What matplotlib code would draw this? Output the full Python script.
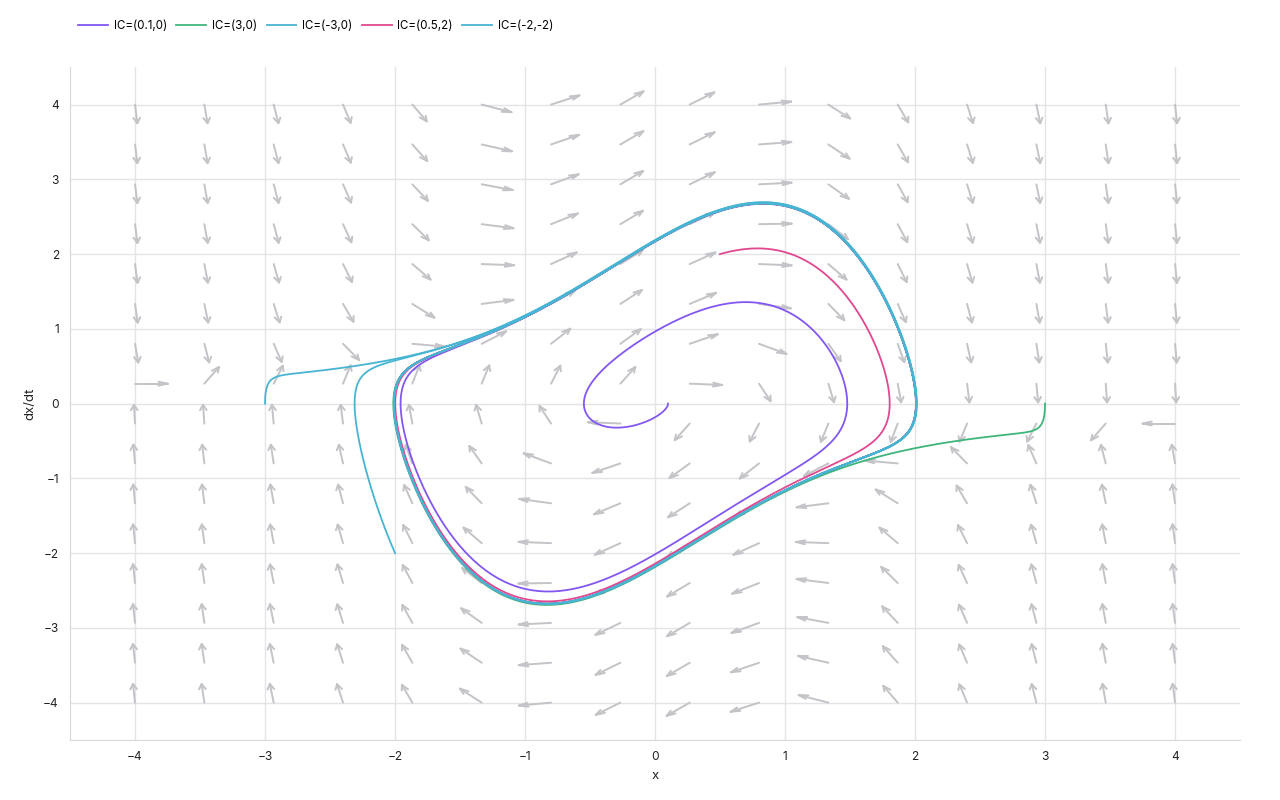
import numpy as np
import matplotlib.pyplot as plt
from matplotlib.collections import LineCollection

plt.rcParams['font.family'] = ['Inter', 'DejaVu Sans']

# Van der Pol oscillator: mu = 1
mu = 1.0
t_end = 20.0
dt = 0.01

# initial conditions (x0, y0) as given in the legend
ic_x = [0.1, 3, -3, 0.5, -2]
ic_y = [0, 0, 0, 2, -2]
ic_labels = ['IC=(0.1,0)', 'IC=(3,0)', 'IC=(-3,0)', 'IC=(0.5,2)', 'IC=(-2,-2)']
ic_colors = ['#8257f2', '#3fb57c', '#47b4d3', '#e1488f', '#47b4d3']

# vector field grid
grid_x = np.linspace(-4, 4, 16)
grid_y = np.linspace(-4, 4, 16)
arrow_len = 0.25
barb_frac = 0.3

ticks = [-4, -3, -2, -1, 0, 1, 2, 3, 4]


def field(x, y):
    return y, mu * (1 - x ** 2) * y - x


def integrate(x0, y0):
    n = int(t_end / dt)
    xs = np.empty(n + 1)
    ys = np.empty(n + 1)
    xs[0], ys[0] = x0, y0
    x, y = x0, y0
    for i in range(n):
        k1 = field(x, y)
        k2 = field(x + dt / 2 * k1[0], y + dt / 2 * k1[1])
        k3 = field(x + dt / 2 * k2[0], y + dt / 2 * k2[1])
        k4 = field(x + dt * k3[0], y + dt * k3[1])
        x += dt / 6 * (k1[0] + 2 * k2[0] + 2 * k3[0] + k4[0])
        y += dt / 6 * (k1[1] + 2 * k2[1] + 2 * k3[1] + k4[1])
        xs[i + 1], ys[i + 1] = x, y
    return xs, ys


fig = plt.figure(figsize=(12.8, 8), dpi=100)
ax = fig.add_axes([0.0547, 0.075, 0.9141, 0.841])

# arrows (shaft + two barbs, drawn in data coords)
X, Y = np.meshgrid(grid_x, grid_y)
U, V = field(X, Y)
norm = np.hypot(U, V)
U = U / norm * arrow_len
V = V / norm * arrow_len
segs = []
for x, y, u, v in zip(X.ravel(), Y.ravel(), U.ravel(), V.ravel()):
    ex, ey = x + u, y + v
    ang = np.arctan2(v, u)
    bl = barb_frac * arrow_len
    segs.append([(x, y), (ex, ey)])
    for s in (1, -1):
        a = ang + s * np.pi / 9
        segs.append([(ex - bl * np.cos(a), ey - bl * np.sin(a)), (ex, ey)])
ax.add_collection(LineCollection(segs, colors='#c3c3c8', linewidths=1.4,
                                 capstyle='round', zorder=2))

for x0, y0, lab, col in zip(ic_x, ic_y, ic_labels, ic_colors):
    xs, ys = integrate(x0, y0)
    ax.plot(xs, ys, color=col, lw=1.3, label=lab, zorder=3)

ax.set_xlim(-4.5, 4.5)
ax.set_ylim(-4.5, 4.5)
ax.set_xticks(ticks)
ax.set_yticks(ticks)
ax.grid(True, color='#e3e3e8', lw=1)
ax.set_axisbelow(True)
for s in ('top', 'right'):
    ax.spines[s].set_visible(False)
for s in ('left', 'bottom'):
    ax.spines[s].set_color('#d8d8dc')
ax.tick_params(length=0, labelsize=8.6, colors='#222222', pad=8)
ax.set_xlabel('x', fontsize=9.5, color='#222222', labelpad=5)
ax.set_ylabel('dx/dt', fontsize=9.5, color='#222222', labelpad=5)

fig.legend(loc='upper left', bbox_to_anchor=(0.053, 0.988), ncol=5,
           frameon=False, fontsize=8.3, handlelength=2.6, columnspacing=0.8,
           handletextpad=0.5)

fig.savefig('out.png', dpi=100)
